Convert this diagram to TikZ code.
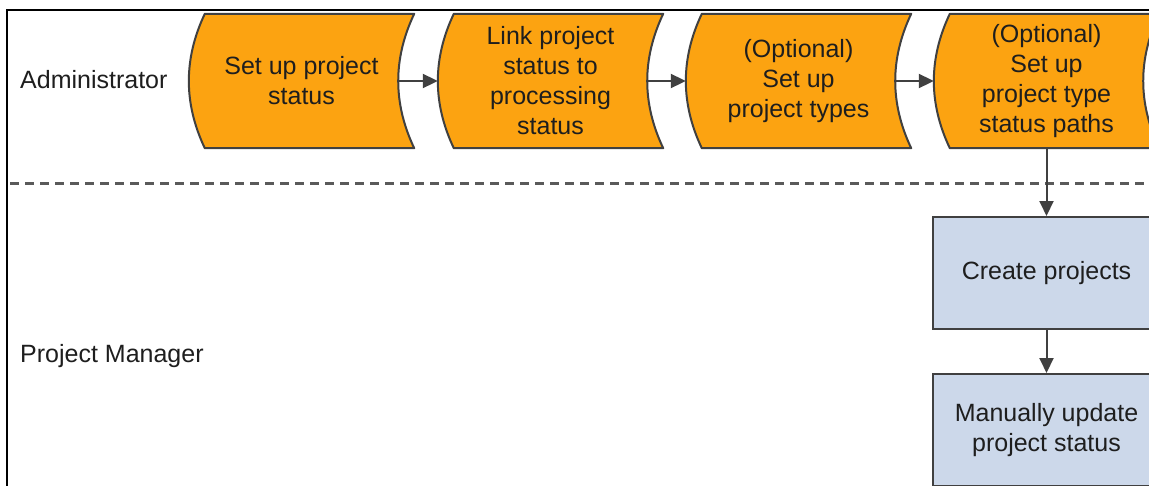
\documentclass[tikz,border=0pt]{standalone}
\usepackage{fontspec}
\setmainfont{Liberation Sans}
\usetikzlibrary{arrows.meta}
\definecolor{orangefill}{RGB}{252,163,17}
\definecolor{bluefill}{RGB}{204,216,234}
\definecolor{edgegray}{RGB}{64,64,64}
\definecolor{lanegray}{RGB}{90,90,90}
\definecolor{txt}{RGB}{30,30,30}
\tikzset{
  wavenode/.style={shape=rectangle, draw=none, minimum width=225pt, minimum height=134pt,
    inner sep=0pt, align=center, text=txt, font=\fontsize{25}{30}\selectfont},
  wavedraw/.style={draw=edgegray, fill=orangefill, line width=2pt, line join=round},
  boxnode/.style={shape=rectangle, draw=edgegray, fill=bluefill, line width=2pt,
    minimum width=228pt, minimum height=112pt, inner sep=0pt, align=center, text=txt,
    font=\fontsize{25}{30}\selectfont},
  rolenode/.style={anchor=west, inner sep=0pt, text=txt, font=\fontsize{25}{30}\selectfont},
  arr/.style={draw=edgegray, line width=2pt, -{Triangle[length=15pt,width=14pt]}},
  frameline/.style={draw=black, line width=1.6pt},
  laneline/.style={draw=lanegray, line width=3pt, dash pattern=on 9pt off 6pt}
}
\newcommand\wavepath[1]{%
  \fill[wavedraw] ([xshift=16pt]#1.north west) .. controls +(-21.3,45) and +(-21.3,-45) ..
    ([xshift=16pt]#1.south west) -- (#1.south east) .. controls +(-21.3,-45) and +(-21.3,45) ..
    (#1.north east) -- cycle;}
\begin{document}
\begin{tikzpicture}[x=1pt,y=-1pt]
\useasboundingbox (0,0) rectangle (1149,485);
\clip (0,0) rectangle (1149,485);
\fill[white] (0,0) rectangle (1149,485);
% frame and lane divider
\draw[frameline] (7,490) -- (7,10) -- (1160,10);
\draw[laneline] (10,183) -- (1160,183);
% role labels
\node[rolenode] (admin) at (20,80) {Administrator};
\node[rolenode] (pm) at (20,356) {Project Manager};
% process shapes
\node[wavenode] (s1) at (301.5,81) {};
\node[wavenode] (s2) at (550.5,81) {};
\node[wavenode] (s3) at (798.5,81) {};
\node[wavenode] (s4) at (1046.5,81) {};
\wavepath{s1}
\wavepath{s2}
\wavepath{s3}
\wavepath{s4}
\node[wavenode] at (s1.center) {Set up project\\status};
\node[wavenode] at (s2.center) {Link project\\status to\\processing\\status};
\node[wavenode] at (s3.center) {(Optional)\\Set up\\project types};
\node[wavenode] at (s4.center) {(Optional)\\Set up\\project type\\status paths};
% boxes
\node[boxnode] (b1) at (1046.5,273) {Create projects};
\node[boxnode] (b2) at (1046.5,430) {Manually update\\project status};
% connectors
\draw[arr] ([xshift=-16pt]s1.east) -- (s2.west);
\draw[arr] ([xshift=-16pt]s2.east) -- (s3.west);
\draw[arr] ([xshift=-16pt]s3.east) -- (s4.west);
\draw[arr] (s4.south) -- (b1.north);
\draw[arr] (b1.south) -- (b2.north);
\end{tikzpicture}
\end{document}
